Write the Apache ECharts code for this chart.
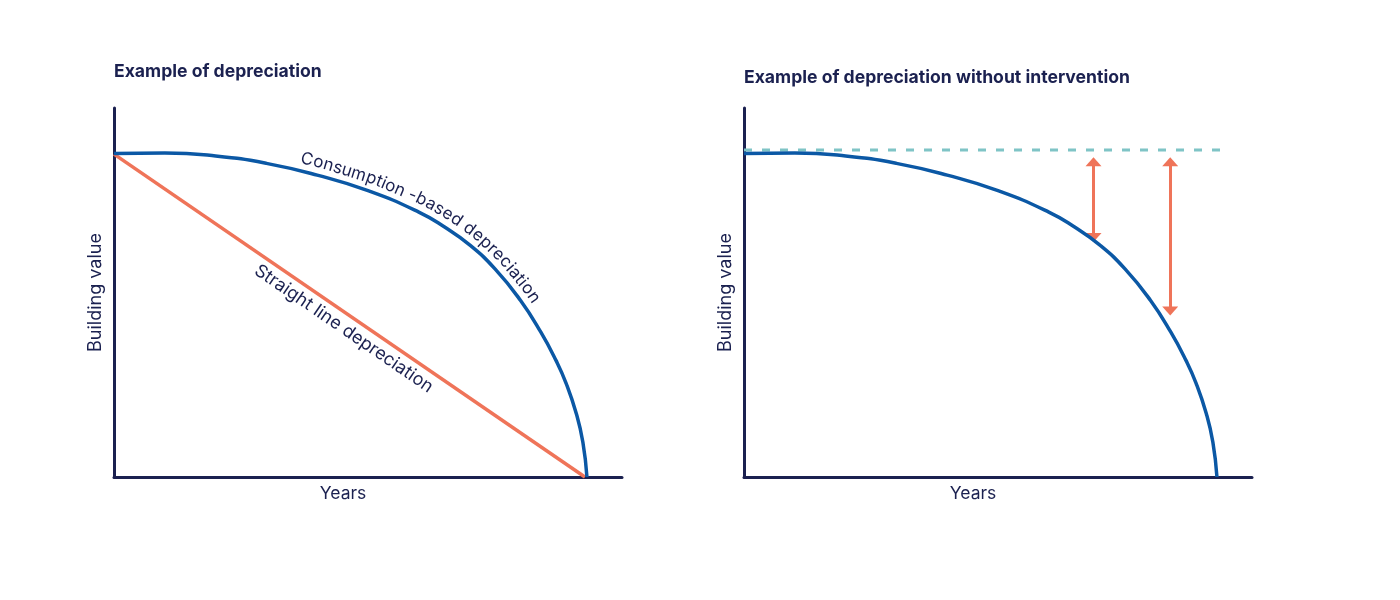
<!DOCTYPE html>
<html>
<head>
<meta charset="utf-8">
<script src="https://cdn.jsdelivr.net/npm/echarts@6/dist/echarts.min.js"></script>
<style>
  html, body { margin: 0; padding: 0; background: #fff; }
  #main { width: 1400px; height: 600px; }
</style>
</head>
<body>
<div id="main"></div>
<script>
// values (x = years, y = building value, both 0-100 of axis)
var consumptionX = [0, 10, 20, 30, 40, 50, 60, 65, 70, 75, 80, 84, 87, 89, 91, 92.3, 93.1];
var consumptionY = [87.7, 87.8, 87.0, 85.0, 81.8, 77.6, 71.8, 67.8, 62.9, 56.4, 47.9, 39.3, 31.6, 25.4, 17.2, 9.4, 0];
var straightX = [0, 92.7];
var straightY = [87.5, 0];
var targetX = [0, 94.1];
var targetY = [88.6, 88.6];
var gapX = [68.8, 83.9];
var gapTop = [85.4, 85.4];
var gapBottom = [64.9, 45.0];

var titles = ['Example of depreciation', 'Example of depreciation without intervention'];
var consumptionLabel = 'Consumption -based depreciation';
var straightLabel = 'Straight line depreciation';

var navy = '#1b2150';
var blue = '#0b58a5';
var orange = '#ef7459';
var teal = '#7fc4c6';
var font = 'Inter';

function pairs(xs, ys) {
  return xs.map(function (x, i) { return [x, ys[i]]; });
}

var mychart = echarts.init(document.getElementById('main'));

function makeX(i) {
  return {
    gridIndex: i, type: 'value', min: 0, max: 100,
    axisLine: { lineStyle: { color: navy, width: 3 } },
    axisTick: { show: false }, axisLabel: { show: false }, splitLine: { show: false },
    name: 'Years', nameLocation: 'middle', nameGap: 8,
    nameTextStyle: { color: navy, fontSize: 17.5, fontFamily: font, padding: [0, 50, 0, 0] }
  };
}
function makeY(i) {
  return {
    gridIndex: i, type: 'value', min: 0, max: 100,
    axisLine: { lineStyle: { color: navy, width: 3 } },
    axisTick: { show: false }, axisLabel: { show: false }, splitLine: { show: false },
    name: 'Building value', nameLocation: 'middle', nameGap: 9,
    nameTextStyle: { color: navy, fontSize: 18, fontFamily: font }
  };
}

var option = {
  animation: false,
  title: [
    { text: titles[0], left: 114, top: 63, padding: 0, textStyle: { color: navy, fontSize: 17.6, fontWeight: 'bold', fontFamily: font } },
    { text: titles[1], left: 744, top: 69, padding: 0, textStyle: { color: navy, fontSize: 17.6, fontWeight: 'bold', fontFamily: font } }
  ],
  grid: [
    { left: 114, right: 778, top: 108, bottom: 123 },
    { left: 744, right: 148, top: 108, bottom: 123 }
  ],
  xAxis: [makeX(0), makeX(1)],
  yAxis: [makeY(0), makeY(1)],
  series: [
    {
      type: 'line', xAxisIndex: 0, yAxisIndex: 0,
      data: pairs(straightX, straightY),
      showSymbol: false, lineStyle: { color: orange, width: 3.5 }
    },
    {
      type: 'line', xAxisIndex: 0, yAxisIndex: 0,
      data: pairs(consumptionX, consumptionY),
      showSymbol: false, smooth: 0.5,
      lineStyle: { color: blue, width: 3.5 }
    },
    {
      type: 'line', xAxisIndex: 1, yAxisIndex: 1,
      data: pairs(targetX, targetY),
      showSymbol: false, lineStyle: { color: teal, width: 3, type: [8, 10] }
    },
    {
      type: 'line', xAxisIndex: 1, yAxisIndex: 1,
      data: pairs(consumptionX, consumptionY),
      showSymbol: false, smooth: 0.5,
      lineStyle: { color: blue, width: 3.5 }
    },
    {
      type: 'lines', coordinateSystem: 'cartesian2d', xAxisIndex: 1, yAxisIndex: 1,
      symbol: ['triangle', 'triangle'], symbolSize: [[16, 9], [16, 9]],
      lineStyle: { color: orange, width: 3, opacity: 1 },
      itemStyle: { color: orange },
      data: gapX.map(function (x, i) {
        return { coords: [[x, gapTop[i]], [x, gapBottom[i]]] };
      })
    }
  ]
};
mychart.setOption(option);

// labels that follow the lines of the left chart
var ctx = document.createElement('canvas').getContext('2d');
ctx.font = '17px ' + font;

function curveText(text, startX, offset) {
  var pts = pairs(consumptionX, consumptionY).map(function (p) {
    return mychart.convertToPixel({ gridIndex: 0 }, p);
  });
  var cum = [0];
  for (var i = 1; i < pts.length; i++) {
    cum.push(cum[i - 1] + Math.hypot(pts[i][0] - pts[i - 1][0], pts[i][1] - pts[i - 1][1]));
  }
  function at(s) {
    for (var k = 1; k < pts.length; k++) {
      if (cum[k] >= s || k === pts.length - 1) {
        var t = (s - cum[k - 1]) / (cum[k] - cum[k - 1]);
        return [pts[k - 1][0] + t * (pts[k][0] - pts[k - 1][0]), pts[k - 1][1] + t * (pts[k][1] - pts[k - 1][1])];
      }
    }
  }
  var px = mychart.convertToPixel({ gridIndex: 0 }, [startX, 0])[0];
  var s = 0;
  while (at(s)[0] < px) s += 0.5;
  var out = [];
  for (var c = 0; c < text.length; c++) {
    var w = ctx.measureText(text[c]).width;
    var m = s + w / 2;
    var a = at(m - 12), b = at(m + 12), p = at(m);
    var dx = b[0] - a[0], dy = b[1] - a[1], len = Math.hypot(dx, dy);
    var nx = dy / len, ny = -dx / len;
    out.push({
      type: 'text', x: p[0] + nx * offset, y: p[1] + ny * offset,
      rotation: -Math.atan2(dy, dx),
      style: { text: text[c], fill: navy, fontSize: 17, fontFamily: font, align: 'center', verticalAlign: 'middle' }
    });
    s += w;
  }
  return out;
}

function lineText(text, frac, offset) {
  var a = mychart.convertToPixel({ gridIndex: 0 }, [straightX[0], straightY[0]]);
  var b = mychart.convertToPixel({ gridIndex: 0 }, [straightX[1], straightY[1]]);
  var dx = b[0] - a[0], dy = b[1] - a[1], len = Math.hypot(dx, dy);
  var nx = -dy / len, ny = dx / len;
  return {
    type: 'text',
    x: a[0] + dx * frac + nx * offset, y: a[1] + dy * frac + ny * offset,
    rotation: -Math.atan2(dy, dx),
    style: { text: text, fill: navy, fontSize: 18, fontFamily: font, align: 'center', verticalAlign: 'middle' }
  };
}

var labels = curveText(consumptionLabel, 36.2, 13);
labels.push(lineText(straightLabel, 0.505, 14));
mychart.setOption({ graphic: { elements: labels } });
</script>
</body>
</html>
